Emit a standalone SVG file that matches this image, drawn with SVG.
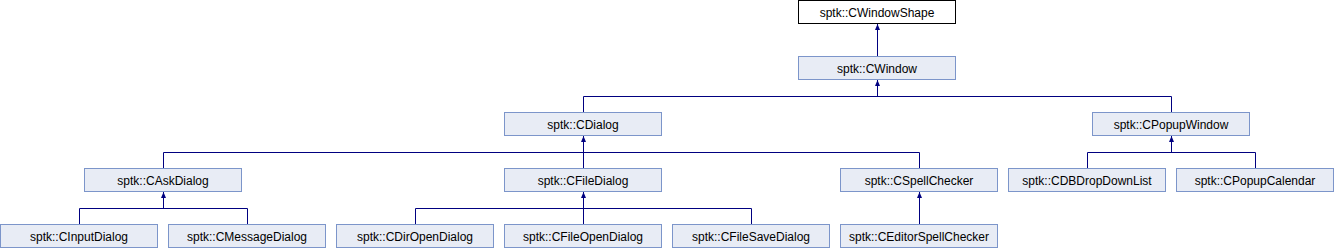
<svg xmlns="http://www.w3.org/2000/svg" width="1334" height="248" viewBox="0 0 1334 248">
<style>
.n rect{fill:#E8ECF5;stroke:#7C95CA;stroke-width:1}
.n.root rect{fill:#FFFFFF;stroke:#000000}
.n text{font-family:"Liberation Sans",Arial,sans-serif;font-size:12px;fill:#000000;text-anchor:middle}
#edges path{fill:none;stroke:#000080;stroke-width:1}
#edges polygon{fill:#000080;stroke:none}
</style>
<rect width="1334" height="248" fill="#FFFFFF"/>
<g id="edges">
<path d="M877.5,24V56"/>
<polygon points="877.5,24 875,30 880,30"/>
<path d="M877.5,80V96.5M583.5,96.5H1171.5M583.5,96.5V112M1171.5,96.5V112"/>
<polygon points="877.5,80 875,86 880,86"/>
<path d="M583.5,136V152.5M163.5,152.5H919.5M163.5,152.5V168M583.5,152.5V168M919.5,152.5V168"/>
<polygon points="583.5,136 581,142 586,142"/>
<path d="M1171.5,136V152.5M1087.5,152.5H1255.5M1087.5,152.5V168M1255.5,152.5V168"/>
<polygon points="1171.5,136 1169,142 1174,142"/>
<path d="M163.5,192V208.5M79.5,208.5H247.5M79.5,208.5V224M247.5,208.5V224"/>
<polygon points="163.5,192 161,198 166,198"/>
<path d="M583.5,192V208.5M415.5,208.5H751.5M415.5,208.5V224M583.5,208.5V224M751.5,208.5V224"/>
<polygon points="583.5,192 581,198 586,198"/>
<path d="M919.5,192V224"/>
<polygon points="919.5,192 917,198 922,198"/>
</g>
<g id="CWindowShape" class="n root"><rect x="798.5" y="0.5" width="157" height="23"/><text x="877" y="16.5">sptk::CWindowShape</text></g>
<g id="CWindow" class="n"><rect x="798.5" y="56.5" width="157" height="23"/><text x="877" y="72.5">sptk::CWindow</text></g>
<g id="CDialog" class="n"><rect x="504.5" y="112.5" width="157" height="23"/><text x="583" y="128.5">sptk::CDialog</text></g>
<g id="CPopupWindow" class="n"><rect x="1092.5" y="112.5" width="157" height="23"/><text x="1171" y="128.5">sptk::CPopupWindow</text></g>
<g id="CAskDialog" class="n"><rect x="84.5" y="168.5" width="157" height="23"/><text x="163" y="184.5">sptk::CAskDialog</text></g>
<g id="CFileDialog" class="n"><rect x="504.5" y="168.5" width="157" height="23"/><text x="583" y="184.5">sptk::CFileDialog</text></g>
<g id="CSpellChecker" class="n"><rect x="840.5" y="168.5" width="157" height="23"/><text x="919" y="184.5">sptk::CSpellChecker</text></g>
<g id="CDBDropDownList" class="n"><rect x="1008.5" y="168.5" width="157" height="23"/><text x="1087" y="184.5">sptk::CDBDropDownList</text></g>
<g id="CPopupCalendar" class="n"><rect x="1176.5" y="168.5" width="157" height="23"/><text x="1255" y="184.5">sptk::CPopupCalendar</text></g>
<g id="CInputDialog" class="n"><rect x="0.5" y="224.5" width="157" height="23"/><text x="79" y="240.5">sptk::CInputDialog</text></g>
<g id="CMessageDialog" class="n"><rect x="168.5" y="224.5" width="157" height="23"/><text x="247" y="240.5">sptk::CMessageDialog</text></g>
<g id="CDirOpenDialog" class="n"><rect x="336.5" y="224.5" width="157" height="23"/><text x="415" y="240.5">sptk::CDirOpenDialog</text></g>
<g id="CFileOpenDialog" class="n"><rect x="504.5" y="224.5" width="157" height="23"/><text x="583" y="240.5">sptk::CFileOpenDialog</text></g>
<g id="CFileSaveDialog" class="n"><rect x="672.5" y="224.5" width="157" height="23"/><text x="751" y="240.5">sptk::CFileSaveDialog</text></g>
<g id="CEditorSpellChecker" class="n"><rect x="840.5" y="224.5" width="157" height="23"/><text x="919" y="240.5">sptk::CEditorSpellChecker</text></g>
</svg>
